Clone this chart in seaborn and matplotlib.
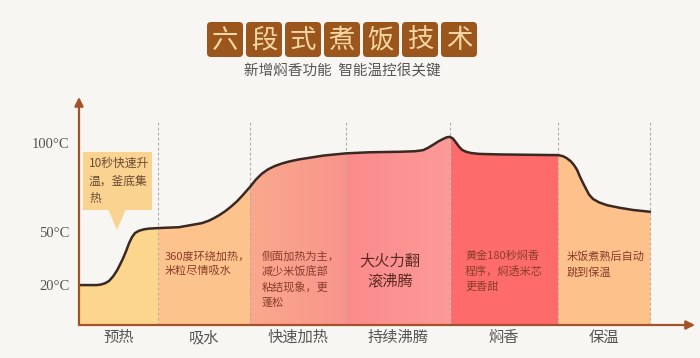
import numpy as np
import pandas as pd
import seaborn as sns
import matplotlib.pyplot as plt
from matplotlib.patches import FancyBboxPatch, Polygon, Rectangle
from matplotlib.colors import LinearSegmentedColormap

# ---------------- data ----------------
title_chars = ["六", "段", "式", "煮", "饭", "技", "术"]
subtitle = "新增焖香功能  智能温控很关键"

phases = ["预热", "吸水", "快速加热", "持续沸腾", "焖香", "保温"]
phase_bounds = [0, 79, 171, 267, 371, 479, 571]

# temperature curve (relative time units, °C)
time = [0, 18, 22, 26, 30, 34, 38, 41, 44, 47, 50, 53, 56, 60, 65, 70, 79, 100,
        123, 130, 135, 140, 146, 152, 158, 164, 171, 177, 183, 189, 196, 203, 210,
        220, 228, 245, 267, 290, 321, 336, 344, 349, 354, 359, 364, 368, 371, 374,
        377, 380, 383, 387, 392, 400, 420, 479, 484, 488, 492, 495, 498, 501, 504,
        507, 510, 514, 520, 528, 540, 554, 571]
temp = [20.0, 20.0, 20.3, 21.0, 22.3, 24.8, 28.2, 31.5, 35.0, 39.0, 43.5, 47.0,
        49.3, 50.6, 51.4, 51.8, 52.1, 52.6,
        54.9, 56.3, 57.7, 59.3, 61.5, 64.2, 67.2, 70.8, 75.3, 79.5, 82.8, 85.2, 87.1,
        88.5, 89.6, 90.8, 91.5, 93.0, 94.2, 94.8, 95.1, 95.4, 96.0, 97.3, 99.0,
        100.8, 102.3, 103.3, 103.5, 102.5, 100.3, 98.0, 96.2, 95.1, 94.4, 93.9,
        93.6, 93.2, 92.6, 91.4, 89.6, 87.6, 85.0, 81.0, 77.5, 74.2, 71.0, 68.5,
        66.6, 65.0, 63.6, 62.3, 61.3]

ytick_vals = [20, 50, 100]
ytick_labels = ["20°C", "50°C", "100°C"]

bubble_text = "10秒快速升\n温，釜底集\n热"
phase_notes = ["", "360度环绕加热，\n米粒尽情吸水", "侧面加热为主，\n减少米饭底部\n粘结现象，更\n蓬松",
               "大火力翻\n滚沸腾", "黄金180秒焖香\n程序，焖透米芯\n更香甜", "米饭煮熟后自动\n跳到保温"]

phase_colors = ["#FDD68E", "#FCC38C", ("#FAA98D", "#F8948C"), ("#FC8B8B", "#FB9A98"),
                "#FE6B6B", "#FDC18C"]

# ---------------- style ----------------
sns.set_theme(style="white")
plt.rcParams['font.family'] = ['Noto Sans CJK SC', 'DejaVu Sans']
BG = "#F7F6F2"

fig = plt.figure(figsize=(7, 3.58), dpi=100, facecolor=BG)
W, H = 700, 358
ybot = -2.5
ppd = 1.775  # pixels per degree
ax = fig.add_axes([79 / W, 33 / H, 621 / W, 233 / H])
ax.set_facecolor("none")

df = pd.DataFrame({"time": time, "temp": temp})
t = np.array(time, dtype=float)
y = np.array(temp, dtype=float)

# fills per phase
for i, (a, b) in enumerate(zip(phase_bounds[:-1], phase_bounds[1:])):
    m = (t >= a) & (t <= b)
    col = phase_colors[i]
    if isinstance(col, tuple):
        poly = ax.fill_between(t[m], ybot, y[m], facecolor="none", lw=0, zorder=1)
        cmap = LinearSegmentedColormap.from_list(f"g{i}", list(col))
        img = ax.imshow(np.linspace(0, 1, 256)[None, :], cmap=cmap,
                        extent=[a, b, ybot, 130], aspect="auto", origin="lower", zorder=1)
        img.set_clip_path(poly.get_paths()[0], transform=ax.transData)
    else:
        ax.fill_between(t[m], ybot, y[m], color=col, lw=0, zorder=1)

# dashed separators
ax.vlines(phase_bounds[1:], ybot, 113, colors="#B5ADA8", linestyles=(0, (2.5, 2)),
          lw=0.8, zorder=2)

# curve
sns.lineplot(data=df, x="time", y="temp", ax=ax, color="#3A2923", lw=1.8,
             sort=False, estimator=None, zorder=3, solid_joinstyle="round",
             solid_capstyle="round")

ax.set_xlim(0, 621)
ax.set_ylim(ybot, ybot + 233 / ppd)
for s in ax.spines.values():
    s.set_visible(False)
ax.set_xlabel("")
ax.set_ylabel("")

# axis arrows
arrow_col = "#A3522A"
ax.annotate("", xy=(0, ybot + 228 / ppd), xytext=(0, ybot),
            arrowprops=dict(arrowstyle="-|>", color=arrow_col, lw=1.6, mutation_scale=13,
                            shrinkA=0, shrinkB=0), annotation_clip=False, zorder=4)
ax.annotate("", xy=(616, ybot), xytext=(0, ybot),
            arrowprops=dict(arrowstyle="-|>", color=arrow_col, lw=1.6, mutation_scale=13,
                            shrinkA=0, shrinkB=0), annotation_clip=False, zorder=4)

# ticks
centers = [(a + b) / 2 for a, b in zip(phase_bounds[:-1], phase_bounds[1:])]
ax.set_xticks(centers)
ax.set_xticklabels(phases, fontsize=11, color="#555555")
ax.set_yticks(ytick_vals)
ax.set_yticklabels(ytick_labels, fontsize=10.5, color="#555555",
                   family=["Liberation Serif", "DejaVu Serif"])
ax.tick_params(axis="both", length=0)
ax.tick_params(axis="x", pad=3)
ax.tick_params(axis="y", pad=7)

# ---------------- overlay in pixel coordinates ----------------
ov = fig.add_axes([0, 0, 1, 1], zorder=5)
ov.set_xlim(0, W)
ov.set_ylim(H, 0)
ov.axis("off")
ov.patch.set_alpha(0)

# title boxes
for i, ch in enumerate(title_chars):
    cx = 225 + 39 * i
    ov.add_patch(FancyBboxPatch((cx - 18, 22), 36, 35,
                                boxstyle="round,pad=0,rounding_size=4",
                                fc="#9A561C", ec="none"))
    ov.text(cx, 40, ch, ha="center", va="center", fontsize=19, color="#F6D6A4")

ov.text(342, 71, subtitle, ha="center", va="center", fontsize=10.5, color="#555555")

# bubble
ov.add_patch(Rectangle((83, 152), 69, 58, fc="#FAD390", ec="none"))
ov.add_patch(Polygon([(108, 209), (126, 209), (117, 230)], closed=True, fc="#FAD390", ec="none"))
ov.text(89, 157, bubble_text, ha="left", va="top", fontsize=8.5, color="#6A4B35",
        linespacing=1.45)

note_x = [None, 165, 262, 390, 465, 567]
for i, note in enumerate(phase_notes):
    if not note:
        continue
    if i == 3:
        ov.text(note_x[i], 253, note, ha="center", va="top", fontsize=11,
                color="#5A2A22", linespacing=1.2, multialignment="center")
    else:
        ov.text(note_x[i], 251, note, ha="left", va="top", fontsize=8,
                color="#8A3D2B", linespacing=1.55)

fig.savefig("out.png", dpi=100, facecolor=BG)
